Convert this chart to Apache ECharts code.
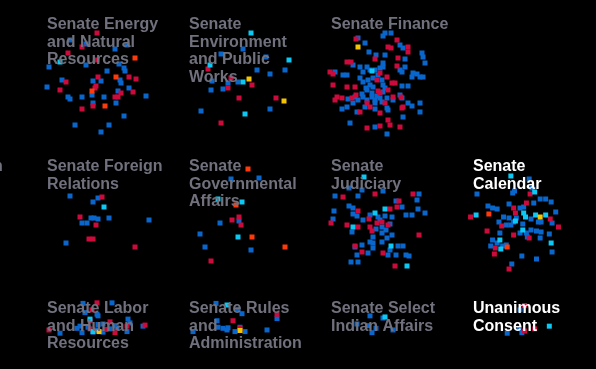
<!DOCTYPE html>
<html><head><meta charset="utf-8">
<script src="https://cdn.jsdelivr.net/npm/echarts@6/dist/echarts.min.js"></script>
<style>html,body{margin:0;padding:0;background:#000;}#c{width:596px;height:369px;}</style>
</head><body><div id="c"></div>
<script>
// Panel titles (row-major, 4 columns)
const panelTitles = [
  "Senate Energy\nand Natural\nResources",
  "Senate\nEnvironment\nand Public\nWorks",
  "Senate Finance",
  "Senate Foreign\nRelations",
  "Senate\nGovernmental\nAffairs",
  "Senate\nJudiciary",
  "Senate\nCalendar",
  "Senate Labor\nand Human\nResources",
  "Senate Rules\nand\nAdministration",
  "Senate Select\nIndian Affairs",
  "Unanimous\nConsent"
];
const panelCells = [[0,0],[1,0],[2,0],[0,1],[1,1],[2,1],[3,1],[0,2],[1,2],[2,2],[3,2]];
const highlightTitles = [6,10];
const groupNames = ["blue","red","cyan","orange","yellow"];

// point values per panel, per group
const energyBlue = [[49,67],[62,80],[47,87],[68,97],[70,99],[82,97],[86,65],[107,71],[93,81],[101,81],[92,95],[104,97],[93,103],[116,103],[118,91],[120,80],[121,83],[124,68],[125,71],[129,88],[146,96],[124,116],[109,125],[101,132],[75,125],[115,49],[127,45],[119,64],[86,44],[70,40]];
const energyRed = [[97,33],[82,47],[68,53],[97,60],[66,82],[60,90],[98,77],[96,86],[95,88],[129,77],[136,79],[121,93],[133,92],[115,97],[118,97],[93,106],[82,109]];
const energyCyan = [[60,62]];
const energyOrange = [[135,58],[116,77],[92,91],[105,106]];

const envBlue = [[221,54],[243,49],[266,57],[257,70],[270,74],[285,70],[212,81],[211,90],[223,89],[228,83],[238,82],[201,111],[270,109]];
const envRed = [[208,69],[231,78],[228,88],[252,85],[239,98],[276,98],[221,123]];
const envCyan = [[251,33],[289,60],[210,65],[243,82],[245,114]];
const envYellow = [[249,79],[284,101]];

const financeBlue = [[358,38],[383,36],[385,33],[391,33],[365,43],[400,45],[403,48],[369,52],[376,55],[385,55],[422,53],[423,57],[405,59],[425,63],[353,65],[360,67],[367,67],[383,63],[383,67],[405,67],[335,72],[343,75],[347,75],[363,72],[375,70],[380,68],[400,70],[402,72],[413,73],[417,74],[420,77],[423,77],[412,77],[360,78],[363,82],[368,80],[373,78],[382,80],[370,85],[373,87],[383,85],[402,86],[408,86],[367,90],[372,93],[383,92],[362,94],[355,97],[363,97],[372,97],[380,98],[387,98],[400,95],[402,98],[348,99],[358,100],[367,100],[375,100],[382,102],[393,100],[353,103],[375,103],[408,103],[412,106],[420,103],[347,107],[342,109],[365,107],[375,109],[387,108],[357,112],[420,112],[403,117],[350,123],[375,127],[387,134],[388,110],[378,75],[370,70],[366,88],[377,96],[385,88]];
const financeRed = [[356,39],[397,40],[388,47],[391,48],[408,47],[408,52],[347,62],[351,62],[375,59],[398,58],[330,72],[333,74],[397,66],[380,73],[387,77],[377,80],[392,83],[395,83],[333,85],[347,87],[355,87],[378,91],[380,93],[388,90],[337,97],[335,100],[342,98],[352,98],[356,95],[393,97],[401,97],[367,103],[385,103],[370,107],[360,112],[402,108],[403,107],[380,113],[388,120],[390,125],[380,126],[367,128],[400,127]];
const financeCyan = [[372,71]];
const financeYellow = [[358,47]];

const foreignBlue = [[70,196],[93,202],[98,198],[82,223],[87,223],[91,218],[94,218],[98,219],[109,218],[149,220],[66,243]];
const foreignRed = [[102,197],[80,217],[96,225],[89,239],[93,239],[135,247]];
const foreignCyan = [[104,207]];

const govBlue = [[231,179],[259,178],[220,223],[239,221],[200,234],[205,247],[251,250]];
const govRed = [[232,220],[239,217],[241,225],[211,261]];
const govCyan = [[218,199],[242,202],[238,237]];
const govOrange = [[248,169],[236,205],[252,237],[285,247]];

const judBlue = [[335,196],[358,196],[349,188],[362,190],[383,191],[419,194],[417,200],[396,201],[402,207],[349,206],[353,208],[334,211],[353,214],[357,216],[333,219],[363,220],[370,215],[378,217],[385,216],[392,217],[380,220],[406,215],[412,215],[418,209],[425,213],[352,232],[382,227],[390,224],[373,237],[382,233],[392,235],[387,238],[373,243],[362,245],[355,247],[373,248],[390,250],[398,246],[403,246],[357,255],[368,253],[388,255],[396,255],[406,255],[409,256],[351,262],[358,262],[370,242],[382,242],[376,229],[386,230]];
const judRed = [[375,194],[343,197],[413,194],[358,211],[390,209],[397,207],[399,201],[331,223],[347,225],[370,227],[358,227],[377,223],[382,222],[388,225],[372,231],[419,235],[355,246],[362,252],[383,253],[395,266],[369,219]];
const judCyan = [[364,177],[385,209],[375,213],[353,227],[391,246],[407,266]];

const calBlue = [[478,194],[517,193],[519,191],[535,179],[538,188],[490,206],[495,208],[500,209],[513,204],[525,208],[529,207],[540,203],[547,199],[553,199],[559,202],[564,212],[507,217],[513,218],[502,222],[510,225],[515,225],[521,218],[537,219],[545,222],[548,222],[560,223],[503,233],[525,233],[532,233],[537,230],[543,231],[548,232],[557,234],[533,237],[495,240],[493,246],[500,243],[506,246],[510,245],[547,238],[560,252],[527,256],[543,259],[516,264],[518,222],[528,224]];
const calRed = [[471,217],[536,194],[532,203],[518,208],[520,213],[505,226],[489,231],[518,235],[535,238],[558,219],[567,227],[498,248],[497,254],[513,269]];
const calCyan = [[515,176],[541,192],[477,215],[520,221],[529,213],[531,217],[542,215],[553,215],[528,230],[503,240],[504,249],[559,243]];
const calOrange = [[491,214],[511,247]];
const calYellow = [[547,217]];

const laborBlue = [[83,313],[112,312],[85,330],[97,333],[98,336],[128,342],[130,349],[143,355],[80,355],[77,359],[88,357],[98,352],[103,351],[115,354],[117,358],[110,360],[97,362],[93,366],[103,366],[60,368],[82,367],[127,365]];
const laborRed = [[97,312],[92,325],[90,345],[110,347],[145,353],[127,355],[90,360],[106,361],[49,362],[115,367]];
const laborCyan = [[93,365],[90,342]];
const laborYellow = [[99,365]];

const rulesBlue = [[216,313],[238,324],[242,332],[217,345],[218,357],[223,359],[228,358],[227,362],[240,357],[245,365],[267,362],[193,365],[235,365],[277,341]];
const rulesRed = [[277,333],[240,359],[233,345]];
const rulesCyan = [[227,316]];
const rulesYellow = [[240,363]];

const indianBlue = [[370,336],[383,340],[357,351],[368,354],[376,359],[393,362],[372,367]];
const indianCyan = [[385,338]];

const consentBlue = [[524,359],[511,368],[527,367],[525,325]];
const consentRed = [[530,317],[541,360],[530,364]];
const consentCyan = [[557,355]];

const panelPoints = [
  {blue:energyBlue, red:energyRed, cyan:energyCyan, orange:energyOrange},
  {blue:envBlue, red:envRed, cyan:envCyan, yellow:envYellow},
  {blue:financeBlue, red:financeRed, cyan:financeCyan, yellow:financeYellow},
  {blue:foreignBlue, red:foreignRed, cyan:foreignCyan},
  {blue:govBlue, red:govRed, cyan:govCyan, orange:govOrange},
  {blue:judBlue, red:judRed, cyan:judCyan},
  {blue:calBlue, red:calRed, cyan:calCyan, orange:calOrange, yellow:calYellow},
  {blue:laborBlue, red:laborRed, cyan:laborCyan, yellow:laborYellow},
  {blue:rulesBlue, red:rulesRed, cyan:rulesCyan, yellow:rulesYellow},
  {blue:indianBlue, cyan:indianCyan},
  {blue:consentBlue, red:consentRed, cyan:consentCyan}
];

// layout / style
const groupColors = {blue:"#0866cc", red:"#cc0a3c", cyan:"#0cc8f5", orange:"#ff3a0a", yellow:"#f5c400"};
const CELL = 142, X0 = 40, Y0 = 8;
const titleGray = '#71717e';
const titleFont = 'bold 16px "Liberation Sans", Arial, sans-serif';

const chart = echarts.init(document.getElementById('c'), null, {renderer:'canvas'});
const grid = [], xAxis = [], yAxis = [], series = [], graphic = [];
panelCells.forEach(([c,r], i) => {
  const left = X0 + CELL*c, top = Y0 + CELL*r;
  grid.push({left, top, width: CELL, height: CELL, containLabel:false});
  xAxis.push({gridIndex:i, type:'value', min:left, max:left+CELL, show:false});
  yAxis.push({gridIndex:i, type:'value', min:top, max:top+CELL, inverse:true, show:false});
  groupNames.forEach(g => {
    const pts = panelPoints[i][g];
    if (!pts) return;
    series.push({type:'scatter', xAxisIndex:i, yAxisIndex:i, symbol:'rect', symbolSize:5,
      itemStyle:{color:groupColors[g], opacity:1}, data:pts, silent:true, animation:false, z:2});
  });
  graphic.push({type:'text', left:left+7, top:top+8, z:10, silent:true,
    style:{text:panelTitles[i], fill: highlightTitles.includes(i) ? '#ffffff' : titleGray,
      font:titleFont, lineHeight:17.5}});
});
// clipped end of a neighbouring panel title at the left edge
graphic.push({type:'text', left:-7, top:Y0+CELL+8, z:10, silent:true,
  style:{text:'n', fill:titleGray, font:titleFont, lineHeight:17.5}});
chart.setOption({backgroundColor:'#000', animation:false, grid, xAxis, yAxis, series, graphic});
</script></body></html>
